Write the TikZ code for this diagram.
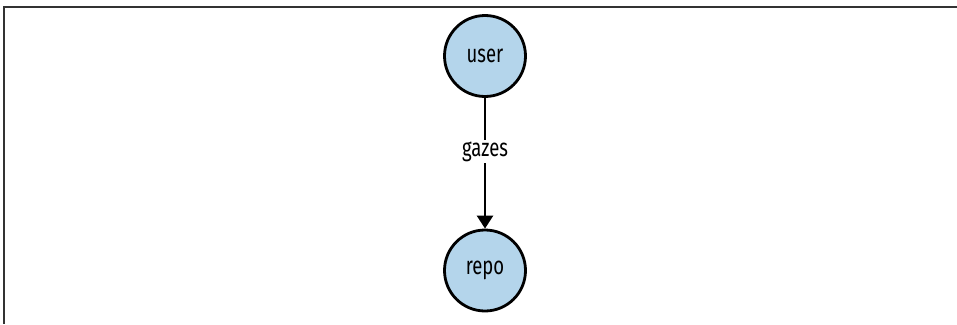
\documentclass[tikz,border=0pt]{standalone}
\usepackage{fontspec}
\setmainfont[FakeStretch=0.74]{Fira Sans}
\usetikzlibrary{arrows.meta}
\definecolor{nodeblue}{HTML}{B4D5EB}
\definecolor{framegray}{HTML}{333333}
\tikzset{
  gnode/.style={circle, draw=black, line width=2.8pt, fill=nodeblue, minimum size=81pt, inner sep=0pt, font=\fontsize{25}{27}\selectfont},
  gedge/.style={line width=2.6pt, -{Triangle[width=16pt,length=13pt]}},
  elabel/.style={fill=white, inner sep=2pt, font=\fontsize{25}{27}\selectfont},
  framerule/.style={draw=framegray, line width=2pt}
}
\begin{document}
\begin{tikzpicture}[x=1pt,y=-1pt]
\useasboundingbox (0,0) rectangle (957,324);
\coordinate (ftl) at (3.5,7);
\coordinate (ftr) at (957,7);
\coordinate (fbl) at (3.5,324);
\draw[framerule] (ftr) -- (ftl) -- (fbl);
\node[gnode] (user) at (485,56) {user};
\node[gnode] (repo) at (485,270.5) {repo};
\draw[gedge] (user) -- node[elabel, pos=0.41] {gazes} (repo);
\end{tikzpicture}
\end{document}
